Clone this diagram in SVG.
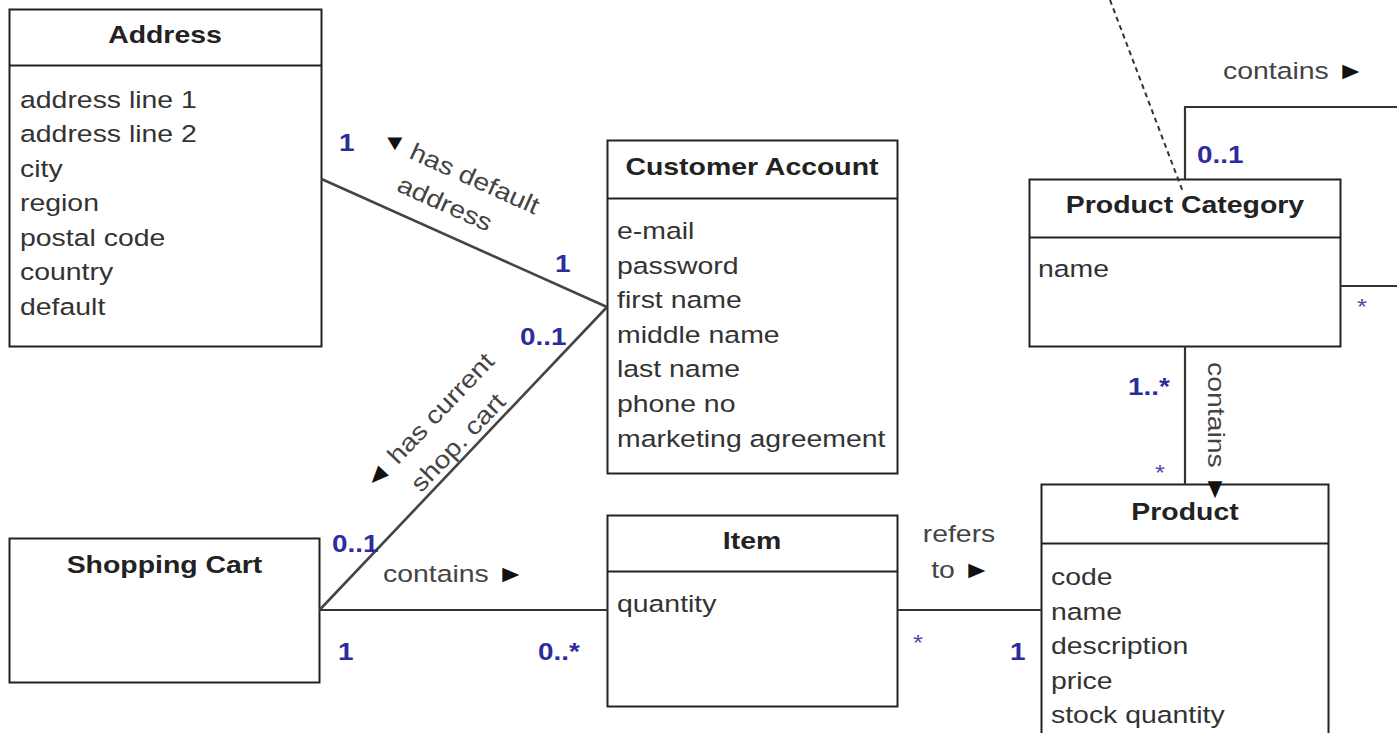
<svg xmlns="http://www.w3.org/2000/svg" width="1397" height="733" viewBox="0 0 1397 733">
  <style>
    text { font-family: "Liberation Sans", Arial, sans-serif; font-size: 24.5px; fill: #333; transform-box: fill-box; transform: scaleX(1.16); }
    .st { text-anchor: start; transform-origin: 0% 50%; }
    .mid { text-anchor: middle; transform-origin: 50% 50%; }
    .en { text-anchor: end; transform-origin: 100% 50%; }
    .title { font-weight: bold; fill: #222; }
    .lbl { fill: #444; }
    .tri { fill: #111; }
    .mult { font-weight: bold; fill: #2c2c9e; font-size: 24px; }
    .star { fill: #4a4aa8; font-size: 22px; }
    .box { fill: #fff; stroke: #222; stroke-width: 2; }
    .div { stroke: #222; stroke-width: 2; fill: none; }
    .assoc { stroke: #333; stroke-width: 2.2; fill: none; }
    .slant { stroke: #444; stroke-width: 2.6; fill: none; }
    .dep { stroke: #333; stroke-width: 2; fill: none; stroke-dasharray: 5 4; }
  </style>

  <rect x="0" y="0" width="1397" height="733" fill="#fff"/>

  <g id="address">
    <rect class="box" x="9.5" y="9.5" width="312" height="337"/>
    <path class="div" d="M9.5 65.5 H321.5"/>
    <text class="title mid" x="165" y="43">Address</text>
    <text class="st" x="20" y="108">address line 1</text>
    <text class="st" x="20" y="142.5">address line 2</text>
    <text class="st" x="20" y="177">city</text>
    <text class="st" x="20" y="211.5">region</text>
    <text class="st" x="20" y="246">postal code</text>
    <text class="st" x="20" y="280.5">country</text>
    <text class="st" x="20" y="315">default</text>
  </g>

  <g id="customer-account">
    <rect class="box" x="607.5" y="140.5" width="290" height="333"/>
    <path class="div" d="M607.5 198.5 H897.5"/>
    <text class="title mid" x="752" y="175">Customer Account</text>
    <text class="st" x="617" y="239">e-mail</text>
    <text class="st" x="617" y="273.6">password</text>
    <text class="st" x="617" y="308.2">first name</text>
    <text class="st" x="617" y="342.8">middle name</text>
    <text class="st" x="617" y="377.4">last name</text>
    <text class="st" x="617" y="412">phone no</text>
    <text class="st" x="617" y="446.6">marketing agreement</text>
  </g>

  <g id="shopping-cart">
    <rect class="box" x="9.5" y="538.5" width="310" height="144"/>
    <text class="title mid" x="164.5" y="573">Shopping Cart</text>
  </g>

  <g id="item">
    <rect class="box" x="607.5" y="515.5" width="290" height="191"/>
    <path class="div" d="M607.5 571.5 H897.5"/>
    <text class="title mid" x="752" y="549">Item</text>
    <text class="st" x="617" y="612">quantity</text>
  </g>

  <g id="product">
    <rect class="box" x="1041.5" y="484.5" width="287" height="280"/>
    <path class="div" d="M1041.5 543.5 H1328.5"/>
    <text class="title mid" x="1185" y="520">Product</text>
    <text class="st" x="1051" y="585">code</text>
    <text class="st" x="1051" y="619.6">name</text>
    <text class="st" x="1051" y="654.2">description</text>
    <text class="st" x="1051" y="688.8">price</text>
    <text class="st" x="1051" y="723.4">stock quantity</text>
  </g>

  <g id="product-category">
    <rect class="box" x="1029.5" y="179.5" width="311" height="167"/>
    <path class="div" d="M1029.5 237.5 H1340.5"/>
    <text class="title mid" x="1185" y="213">Product Category</text>
    <text class="st" x="1038" y="277">name</text>
  </g>

  <!-- associations, drawn over the class boxes -->
  <g id="connectors">
    <path class="slant" d="M321.5 179 L607 307"/>
    <path class="slant" d="M607 307 L319.5 610"/>
    <path class="assoc" d="M319.5 610 H607.5"/>
    <path class="assoc" d="M897.5 610 H1041.5"/>
    <path class="assoc" d="M1185 346.5 V484.5"/>
    <path class="assoc" d="M1185 179.5 V107 H1400"/>
    <path class="assoc" d="M1340.5 286 H1400"/>
    <path class="dep" d="M1110 0 L1183 192"/>

    <!-- Address / Customer Account -->
    <text class="mult st" x="339" y="151">1</text>
    <text class="tri mid" x="395" y="150" style="font-size:22px">▼</text>
    <g transform="translate(475,178) rotate(24.2)">
      <text class="lbl mid" x="0" y="9">has default</text>
      <text class="lbl mid" x="-17" y="44">address</text>
    </g>
    <text class="mult st" x="555" y="272">1</text>

    <!-- Customer Account / Shopping Cart -->
    <text class="mult st" x="520" y="345">0..1</text>
    <g transform="translate(441,407) rotate(-46.5)">
      <text class="lbl en" x="70" y="9"><tspan class="tri">◄</tspan> has current</text>
      <text class="lbl mid" x="-14" y="45">shop. cart</text>
    </g>
    <text class="mult st" x="332" y="552">0..1</text>

    <!-- Shopping Cart / Item -->
    <text class="lbl st" x="383" y="582">contains <tspan class="tri">►</tspan></text>
    <text class="mult st" x="338" y="660">1</text>
    <text class="mult st" x="538" y="660">0..*</text>

    <!-- Item / Product -->
    <text class="lbl mid" x="959" y="542">refers</text>
    <text class="lbl mid" x="961" y="578">to <tspan class="tri">►</tspan></text>
    <text class="star st" x="913" y="650">*</text>
    <text class="mult st" x="1010" y="660">1</text>

    <!-- Product Category / Product -->
    <text class="mult st" x="1128" y="395">1..*</text>
    <text class="star st" x="1155" y="480">*</text>
    <g transform="translate(1208,362) rotate(90)">
      <text class="lbl st" x="0" y="0">contains <tspan class="tri">►</tspan></text>
    </g>

    <!-- Product Category self association -->
    <text class="lbl st" x="1223" y="79">contains <tspan class="tri">►</tspan></text>
    <text class="mult st" x="1197" y="163">0..1</text>
    <text class="star st" x="1357" y="314">*</text>
  </g>
</svg>
